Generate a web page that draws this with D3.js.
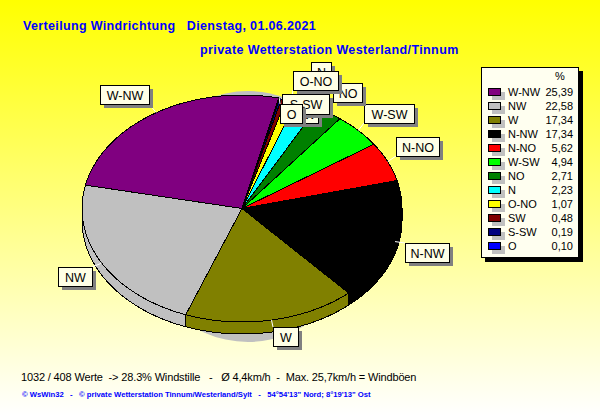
<!DOCTYPE html>
<html><head><meta charset="utf-8">
<script src="https://cdn.jsdelivr.net/npm/d3@7"></script>
<style>html,body{margin:0;padding:0;background:#fff}svg{display:block}text{font-family:"Liberation Sans",Arial,sans-serif}</style>
</head><body><div id="c"></div>
<script>
const categories=["W-NW","NW","W","N-NW","N-NO","W-SW","NO","N","O-NO","SW","S-SW","O"];
const values=[25.39,22.58,17.34,17.34,5.62,4.94,2.71,2.23,1.07,0.48,0.19,0.10];
const valueLabels=["25,39","22,58","17,34","17,34","5,62","4,94","2,71","2,23","1,07","0,48","0,19","0,10"];
const colors=["#800080","#c0c0c0","#808000","#000000","#ff0000","#00ff00","#008000","#00ffff","#ffff00","#800000","#000080","#0000ff"];
// label box placement [x, y, w, h], same order as categories
const labelBoxes=[[100,85,49,19],[58,267,34,19],[273,327,25,19],[405,243,44,19],[396,137,43,19],[364,104,50,19],[333,83,29,19],[311,62,20,19],[293,71,45,19],[292,104,26,19],[282,94,47,20],[280,104,22,19]];
const title1="Verteilung Windrichtung   Dienstag, 01.06.2021";
const title2="private Wetterstation Westerland/Tinnum";
const footer1="1032 / 408 Werte  -> 28.3% Windstille   -   Ø 4,4km/h  -  Max. 25,7km/h = Windböen";
const footer2="© WsWin32   -   © private Wetterstation Tinnum/Westerland/Sylt   -   54°54'13\" Nord; 8°19'13\" Ost";

const W=600,H=415,cx=242,cy=208.5,rx=160,ry=113.5,depth=12;
const svg=d3.select("#c").append("svg").attr("width",W).attr("height",H).style("white-space","pre");
const defs=svg.append("defs");
const g=defs.append("linearGradient").attr("id","bg").attr("x1",0).attr("y1",0).attr("x2",0).attr("y2",1);
g.append("stop").attr("offset",0).attr("stop-color","#ffff00");
g.append("stop").attr("offset",1).attr("stop-color","#ffffff");
svg.append("rect").attr("width",W).attr("height",H).attr("fill","url(#bg)");

const T=(s,x,y,o={})=>svg.append("text").attr("x",x).attr("y",y).text(s)
  .attr("font-size",o.size||11).attr("font-weight",o.weight||"normal").attr("fill",o.fill||"#000")
  .attr("text-anchor",o.anchor||"start").attr("letter-spacing",o.ls||null).attr("xml:space","preserve");
T(title1,23,30,{size:12.5,weight:"bold",fill:"#0000ff",ls:0.35});
T(title2,200,54,{size:12.5,weight:"bold",fill:"#0000ff",ls:0.4});
T(footer1,21,381,{size:11,ls:-0.15});
T(footer2,22,397,{size:7.67,weight:"bold",fill:"#0000ff"});

// shadow ellipse
svg.append("ellipse").attr("cx",248).attr("cy",216.5).attr("rx",115).attr("ry",125.5).attr("fill","#c0c0c0");

const start=13.3*Math.PI/180;
const pie=d3.pie().sort(null).startAngle(start).endAngle(start-2*Math.PI);
const arcs=pie(values);
const px=a=>cx+rx*Math.sin(a), py=a=>cy-ry*Math.cos(a);
const line=d3.line().curve(d3.curveLinear);
const samples=(a0,a1,dy=0)=>d3.range(0,41).map(i=>{const a=a0+(a1-a0)*i/40;return[px(a),py(a)+dy];});
const crisp="crispEdges";
// walls: visible on the front half only
const f0=-Math.PI/2,f1=-3*Math.PI/2;
arcs.forEach((d,i)=>{
  const a0=Math.min(d.startAngle,f0),a1=Math.max(d.endAngle,f1);
  if(a0<=a1)return;
  const pts=samples(a0,a1,0).concat(samples(a1,a0,depth));
  svg.append("path").attr("d",line(pts)+"Z").attr("fill",colors[i]).attr("stroke","#000").attr("shape-rendering",crisp);
});
// top faces
arcs.forEach((d,i)=>{
  const pts=[[cx,cy]].concat(samples(d.startAngle,d.endAngle));
  svg.append("path").attr("d",line(pts)+"Z").attr("fill",colors[i]).attr("stroke","#000").attr("stroke-width",1).attr("shape-rendering",crisp);
});
// leaders
arcs.forEach((d,i)=>{
  const m=(d.startAngle+d.endAngle)/2,b=labelBoxes[i];
  const tx=Math.max(b[0],Math.min(b[0]+b[2],px(m))),ty=Math.max(b[1],Math.min(b[1]+b[3],py(m)));
  svg.append("line").attr("x1",px(m)).attr("y1",py(m)).attr("x2",tx).attr("y2",ty).attr("stroke","#fff");
});
// labels
categories.forEach((c,i)=>{
  const [x,y,w,h]=labelBoxes[i];
  svg.append("rect").attr("x",x+4).attr("y",y+4).attr("width",w).attr("height",h).attr("fill","#808080").attr("shape-rendering",crisp);
  svg.append("rect").attr("x",x+.5).attr("y",y+.5).attr("width",w).attr("height",h).attr("fill","#ffffe6").attr("stroke","#000").attr("shape-rendering",crisp);
  T(c,x+w/2+.5,y+h/2+5,{size:12.5,anchor:"middle"});
});
// legend
const lx=481,ly=67,lw=97,lh=190;
svg.append("rect").attr("x",lx+4).attr("y",ly+4).attr("width",lw+1).attr("height",lh+1).attr("fill","#000");
svg.append("rect").attr("x",lx+.5).attr("y",ly+.5).attr("width",lw).attr("height",lh).attr("fill","#fffff0").attr("stroke","#000").attr("shape-rendering",crisp);
T("%",560,80,{size:11,anchor:"middle"});
const rowY=d3.scaleLinear().domain([0,categories.length-1]).range([92,246]);
categories.forEach((c,i)=>{
  const y=rowY(i);
  svg.append("rect").attr("x",492).attr("y",y).attr("width",13).attr("height",8).attr("fill","#c0c0c0");
  svg.append("rect").attr("x",488.5).attr("y",y-3.5).attr("width",12).attr("height",7).attr("fill",colors[i]).attr("stroke","#000").attr("shape-rendering",crisp);
  T(c,508,y+4,{size:11});
  T(valueLabels[i],573,y+4,{size:11,anchor:"end"});
});
</script></body></html>
